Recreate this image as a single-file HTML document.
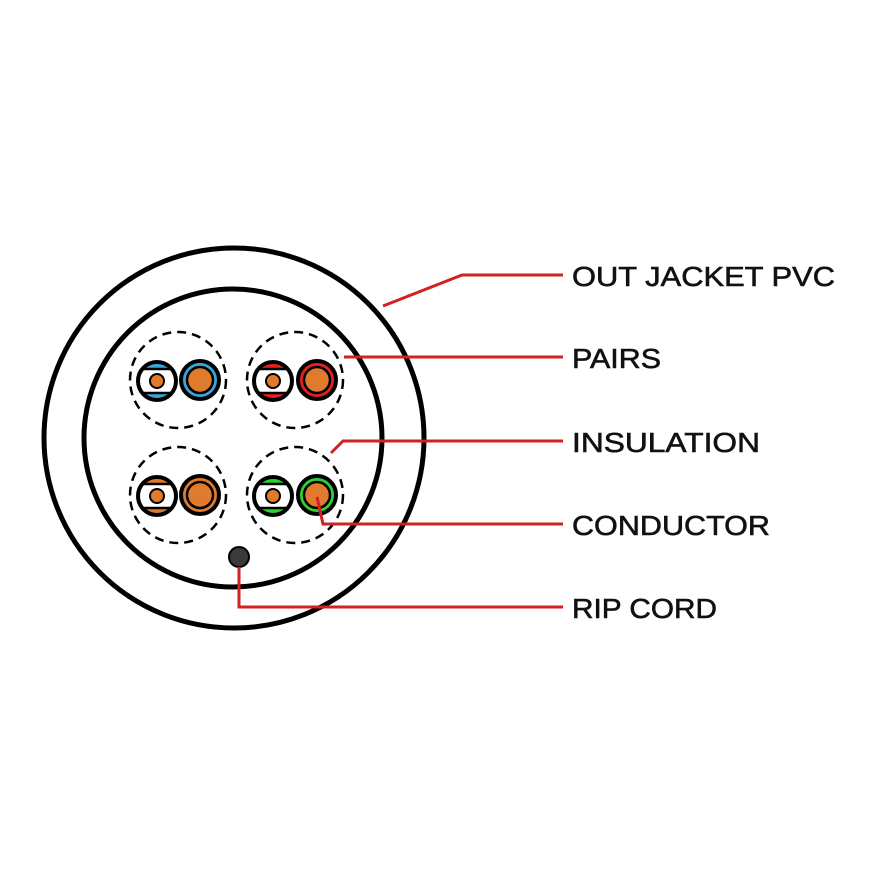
<!DOCTYPE html>
<html><head><style>
html,body{margin:0;padding:0;background:#fff;}
svg{display:block}
text{font-family:"Liberation Sans",sans-serif;font-size:28px;fill:#111;stroke:#111;stroke-width:0.6;}
</style></head><body>
<svg width="875" height="875" viewBox="0 0 875 875" xmlns="http://www.w3.org/2000/svg">
<defs>
<clipPath id="c1"><circle cx="0" cy="0" r="18"/></clipPath>
</defs>
<circle cx="234" cy="438" r="190" fill="none" stroke="#000" stroke-width="5"/>
<circle cx="233" cy="438" r="149" fill="none" stroke="#000" stroke-width="5"/>

<g fill="none" stroke="#000" stroke-width="2.5" stroke-dasharray="9 6">
<circle cx="178" cy="380" r="48"/>
<circle cx="295" cy="380" r="48"/>
<circle cx="178" cy="495" r="48"/>
<circle cx="295" cy="495" r="48"/>
</g>

<g transform="translate(157,381)">
<circle r="19" fill="#3aa6dd"/>
<g clip-path="url(#c1)"><rect x="-20" y="-12" width="40" height="24" fill="#fff"/>
<line x1="-20" y1="-12" x2="20" y2="-12" stroke="#000" stroke-width="2.5"/>
<line x1="-20" y1="12" x2="20" y2="12" stroke="#000" stroke-width="2.5"/></g>
<circle r="19" fill="none" stroke="#000" stroke-width="4"/>
<circle r="7" fill="#e07a2c" stroke="#000" stroke-width="2"/>
</g>
<g transform="translate(200,380)">
<circle r="19" fill="#3aa6dd" stroke="#000" stroke-width="4"/>
<circle r="13" fill="#e07a2c" stroke="#000" stroke-width="2.5"/>
</g>

<g transform="translate(273,381)">
<circle r="19" fill="#e82020"/>
<g clip-path="url(#c1)"><rect x="-20" y="-12" width="40" height="24" fill="#fff"/>
<line x1="-20" y1="-12" x2="20" y2="-12" stroke="#000" stroke-width="2.5"/>
<line x1="-20" y1="12" x2="20" y2="12" stroke="#000" stroke-width="2.5"/></g>
<circle r="19" fill="none" stroke="#000" stroke-width="4"/>
<circle r="7" fill="#e07a2c" stroke="#000" stroke-width="2"/>
</g>
<g transform="translate(317,380)">
<circle r="19" fill="#e82020" stroke="#000" stroke-width="4"/>
<circle r="13" fill="#e07a2c" stroke="#000" stroke-width="2.5"/>
</g>

<g transform="translate(157,496)">
<circle r="19" fill="#e07a2c"/>
<g clip-path="url(#c1)"><rect x="-20" y="-12" width="40" height="24" fill="#fff"/>
<line x1="-20" y1="-12" x2="20" y2="-12" stroke="#000" stroke-width="2.5"/>
<line x1="-20" y1="12" x2="20" y2="12" stroke="#000" stroke-width="2.5"/></g>
<circle r="19" fill="none" stroke="#000" stroke-width="4"/>
<circle r="7" fill="#e07a2c" stroke="#000" stroke-width="2"/>
</g>
<g transform="translate(200,495)">
<circle r="19" fill="#e07a2c" stroke="#000" stroke-width="4"/>
<circle r="13" fill="#e07a2c" stroke="#000" stroke-width="2.5"/>
</g>

<g transform="translate(273,496)">
<circle r="19" fill="#2ed42e"/>
<g clip-path="url(#c1)"><rect x="-20" y="-12" width="40" height="24" fill="#fff"/>
<line x1="-20" y1="-12" x2="20" y2="-12" stroke="#000" stroke-width="2.5"/>
<line x1="-20" y1="12" x2="20" y2="12" stroke="#000" stroke-width="2.5"/></g>
<circle r="19" fill="none" stroke="#000" stroke-width="4"/>
<circle r="7" fill="#e07a2c" stroke="#000" stroke-width="2"/>
</g>
<g transform="translate(317,495)">
<circle r="19" fill="#2ed42e" stroke="#000" stroke-width="4"/>
<circle r="13" fill="#e07a2c" stroke="#000" stroke-width="2.5"/>
</g>

<circle cx="239" cy="557" r="10" fill="#3a3a3a" stroke="#000" stroke-width="2"/>

<g fill="none" stroke="#d42020" stroke-width="3">
<polyline points="383,306 462,275 563,275"/>
<polyline points="344,357 563,357"/>
<polyline points="331,453 343,441 563,441"/>
<polyline points="317,497 323,524 563,524"/>
<polyline points="239,567 239,607 563,607"/>
</g>

<text x="572" y="286" textLength="263" lengthAdjust="spacingAndGlyphs">OUT JACKET PVC</text>
<text x="572" y="368" textLength="89" lengthAdjust="spacingAndGlyphs">PAIRS</text>
<text x="572" y="452" textLength="188" lengthAdjust="spacingAndGlyphs">INSULATION</text>
<text x="572" y="535" textLength="198" lengthAdjust="spacingAndGlyphs">CONDUCTOR</text>
<text x="572" y="618" textLength="145" lengthAdjust="spacingAndGlyphs">RIP CORD</text>
</svg>
</body></html>
